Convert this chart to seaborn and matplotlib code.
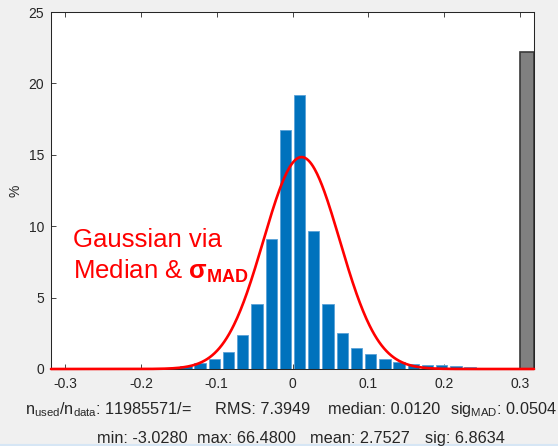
import numpy as np
import pandas as pd
import matplotlib
matplotlib.use("Agg")
import matplotlib.pyplot as plt
import seaborn as sns

# ---- data ----
bin_width = 0.01875
bin_centers = [-0.309375, -0.290625, -0.271875, -0.253125, -0.234375, -0.215625,
               -0.196875, -0.178125, -0.159375, -0.140625, -0.121875, -0.103125,
               -0.084375, -0.065625, -0.046875, -0.028125, -0.009375, 0.009375,
               0.028125, 0.046875, 0.065625, 0.084375, 0.103125, 0.121875,
               0.140625, 0.159375, 0.178125, 0.196875, 0.215625, 0.234375,
               0.253125, 0.271875, 0.290625]
bin_percent = [0.0, 0.0, 0.0, 0.0, 0.0, 0.01,
               0.02, 0.04, 0.10, 0.23, 0.44, 0.69,
               1.19, 2.37, 4.55, 9.12, 16.74, 19.19,
               9.68, 4.53, 2.50, 1.49, 1.03, 0.72,
               0.49, 0.36, 0.30, 0.26, 0.19, 0.12,
               0.10, 0.05, 0.03]
overflow_center = [0.309375]
overflow_percent = [22.22]
gauss_median = 0.0120
gauss_sigma_mad = 0.0504
x_ticks = [-0.3, -0.2, -0.1, 0, 0.1, 0.2, 0.3]
x_tick_labels = ["-0.3", "-0.2", "-0.1", "0", "0.1", "0.2", "0.3"]
y_ticks = [0, 5, 10, 15, 20, 25]

stats_line1 = [r"n$_{\mathregular{used}}$/n$_{\mathregular{data}}$: 11985571/=",
               "RMS: 7.3949",
               "median: 0.0120",
               r"sig$_{\mathregular{MAD}}$: 0.0504"]
stats_line2 = ["min: -3.0280", "max: 66.4800", "mean: 2.7527", "sig: 6.8634"]

# ---- style ----
sns.set_style("ticks")
plt.rcParams['font.family'] = ['Liberation Sans', 'DejaVu Sans']
plt.rcParams['mathtext.fontset'] = 'custom'
plt.rcParams['mathtext.rm'] = 'Liberation Sans'
plt.rcParams['mathtext.it'] = 'Liberation Sans:italic'
plt.rcParams['mathtext.bf'] = 'Liberation Sans:bold'

W, H = 558, 446
fig = plt.figure(figsize=(W / 100, H / 100), dpi=100, facecolor='#f0f0f0')
ax = fig.add_axes([51 / W, 1 - 369 / H, (534 - 51) / W, (369 - 12) / H])
ax.set_facecolor('white')

x_min = bin_centers[0] - bin_width / 2
x_max = overflow_center[-1] + bin_width / 2
edges = [c - bin_width / 2 for c in bin_centers] + [bin_centers[-1] + bin_width / 2]

df = pd.DataFrame({"x": bin_centers, "pct": bin_percent})
sns.histplot(data=df, x="x", weights="pct", bins=edges, shrink=0.8,
             color='#0072BD', edgecolor='#5aa2d8', linewidth=0.6, alpha=1,
             ax=ax, zorder=2)

df_over = pd.DataFrame({"x": overflow_center, "pct": overflow_percent})
sns.histplot(data=df_over, x="x", weights="pct",
             bins=[overflow_center[0] - bin_width / 2, overflow_center[0] + bin_width / 2],
             color='#808080', edgecolor='#3a3a3a', linewidth=1.2, alpha=1,
             ax=ax, zorder=2)

xg = np.linspace(x_min, x_max, 600)
amp = 100 * bin_width / (gauss_sigma_mad * np.sqrt(2 * np.pi))
yg = amp * np.exp(-(xg - gauss_median) ** 2 / (2 * gauss_sigma_mad ** 2))
sns.lineplot(x=xg, y=yg, color='#ff0000', linewidth=1.9, ax=ax, zorder=3)
ax.lines[-1].set_clip_on(False)

ax.set_xlim(x_min, x_max)
ax.set_ylim(0, 25)
ax.set_xticks(x_ticks)
ax.set_xticklabels(x_tick_labels)
ax.set_yticks(y_ticks)
ax.set_xlabel("")
ax.set_ylabel("%", fontsize=10, color='#262626')
ax.yaxis.set_label_coords(-29 / (534 - 51), 0.5)

for s in ax.spines.values():
    s.set_visible(True)
    s.set_color('#262626')
    s.set_linewidth(0.75)
ax.tick_params(axis='both', direction='in', length=3.5, width=0.6, color='#262626',
               labelcolor='#262626', labelsize=10, top=True, right=True)
ax.tick_params(axis='x', pad=6)
ax.tick_params(axis='y', pad=5)

# annotation
fig.text(73 / W, 1 - 246.7 / H, "Gaussian via", color='#ff0000', fontsize=18.5,
         ha='left', va='baseline')
fig.text(73 / W, 1 - 279 / H, r"Median & $\mathbf{\sigma}_{\mathbf{MAD}}$",
         color='#ff0000', fontsize=18.5, ha='left', va='baseline')

# stats text
line1_x = [25, 215, 328]
line2_x = [97, 197, 310, 425]
for txt, px in zip(stats_line1[:3], line1_x):
    fig.text(px / W, 1 - 414 / H, txt, fontsize=11.7, color='#262626',
             ha='left', va='baseline')
fig.text(557 / W, 1 - 414 / H, stats_line1[3], fontsize=11.7, color='#262626',
         ha='right', va='baseline')
for txt, px in zip(stats_line2, line2_x):
    fig.text(px / W, 1 - 443 / H, txt, fontsize=11.7, color='#262626',
             ha='left', va='baseline')

fig.add_artist(plt.Line2D([0, 1], [1 / H, 1 / H], transform=fig.transFigure,
                          color='#d6e6f5', linewidth=1.5))

fig.savefig("out.png", dpi=100, facecolor=fig.get_facecolor())
